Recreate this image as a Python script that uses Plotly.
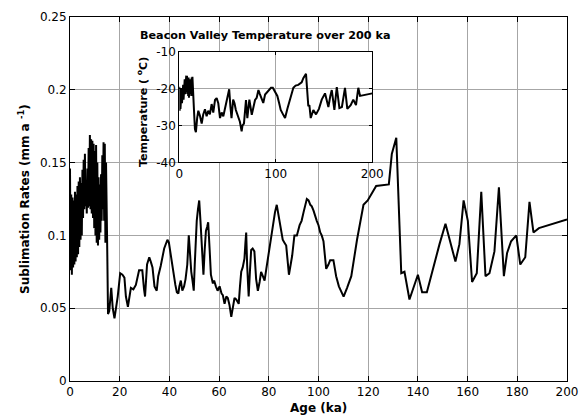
import plotly.graph_objects as go

# ---------------- data ----------------
age_ka = [
    0, 0.25, 0.5, 0.75, 1.0, 1.25, 1.5, 1.75, 2.0, 2.25, 2.5, 2.75, 3.0, 3.25, 3.5, 3.75,
    4.0, 4.25, 4.5, 4.75, 5.0, 5.25, 5.5, 5.75, 6.0, 6.25, 6.5, 6.75, 7.0, 7.25, 7.5, 7.75,
    8.0, 8.25, 8.5, 8.75, 9.0, 9.25, 9.5, 9.75, 10.0, 10.25, 10.5, 10.75, 11.0, 11.25, 11.5, 11.75,
    12.0, 12.25, 12.5, 12.75, 13.0, 13.25, 13.5, 13.75, 14.0, 14.25, 14.5, 14.75,
    15.0, 15.3, 15.8, 16.6, 17.2, 17.9, 18.5, 19.2, 20.2, 21.1, 21.9, 22.5, 23.3, 24.5, 25.5, 26.5,
    27.8, 29.1, 29.8, 30.2, 31.0, 31.9, 32.5, 33.2, 34.0, 34.9, 35.5, 36.5, 37.9, 38.6, 39.2, 39.8,
    40.6, 41.2, 41.9, 42.4, 43.0, 43.6, 44.0, 44.6, 45.2, 45.9, 46.5, 47.2, 47.8, 48.3, 48.8, 49.3,
    49.8, 50.2, 50.6, 51.0, 51.5, 52.0, 52.5, 52.9, 53.3, 53.7, 54.2, 54.7, 55.2, 55.6, 56.2, 56.7,
    57.5, 58.0, 58.7, 59.4, 60.2, 61.0, 61.5, 62.2, 62.9, 63.5, 64.2, 64.9, 65.5, 66.2, 66.9, 67.9,
    68.4, 68.9, 69.5, 70.2, 70.6, 70.9, 71.3, 71.9, 72.4, 72.9, 73.5, 74.2, 74.9, 75.6, 76.3, 76.9,
    77.6, 78.3, 79.0, 79.6, 80.3, 81.0, 81.9, 82.5, 83.2, 84.3, 85.0, 85.6, 86.3, 87.0, 88.1, 88.8,
    89.4, 90.3, 91.3, 92.4, 93.2, 94.0, 94.7, 95.3, 96.0, 96.7, 97.3, 98.0, 99.3, 100.0, 100.7, 101.3,
    102.0, 103.1, 104.0, 104.7, 106.0, 107.1, 108.2, 109.0, 110.1, 111.5, 113.2, 115.5, 118.1, 119.8,
    121.5, 123.2, 128.3, 129.5, 131.3, 133.3, 134.6, 136.6, 140.0, 141.7, 143.6, 145.4, 148.7, 151.1,
    155.1, 156.7, 158.4, 160.1, 161.8, 163.7, 165.5, 167.2, 168.8, 170.8, 172.6, 174.6, 175.9, 177.5,
    179.6, 181.2, 183.2, 184.9, 186.5, 188.7, 200.0,
]
sublimation_rate = [
    0.146, 0.076, 0.128, 0.073, 0.126, 0.078, 0.124, 0.080, 0.130, 0.082, 0.128, 0.085, 0.134, 0.087, 0.137, 0.092,
    0.140, 0.097, 0.136, 0.100, 0.145, 0.112, 0.152, 0.118, 0.156, 0.120, 0.138, 0.115, 0.146, 0.119, 0.160, 0.120,
    0.169, 0.118, 0.166, 0.115, 0.165, 0.112, 0.163, 0.105, 0.158, 0.100, 0.162, 0.095, 0.150, 0.093, 0.140, 0.097,
    0.135, 0.102, 0.142, 0.110, 0.155, 0.118, 0.164, 0.110, 0.163, 0.095, 0.150, 0.090,
    0.088, 0.046, 0.048, 0.064, 0.050, 0.043, 0.050, 0.058, 0.074, 0.073, 0.071, 0.058, 0.051, 0.064, 0.063, 0.066,
    0.076, 0.076, 0.063, 0.058, 0.080, 0.085, 0.082, 0.078, 0.065, 0.062, 0.072, 0.079, 0.091, 0.095, 0.097, 0.095,
    0.085, 0.080, 0.072, 0.066, 0.061, 0.060, 0.065, 0.069, 0.062, 0.065, 0.070, 0.080, 0.100, 0.085, 0.075, 0.069,
    0.062, 0.080, 0.099, 0.110, 0.118, 0.124, 0.110, 0.100, 0.085, 0.073, 0.090, 0.103, 0.106, 0.109, 0.090, 0.073,
    0.067, 0.069, 0.065, 0.062, 0.065, 0.060, 0.059, 0.053, 0.058, 0.057, 0.052, 0.044, 0.050, 0.057, 0.056, 0.053,
    0.065, 0.075, 0.078, 0.084, 0.095, 0.102, 0.079, 0.058, 0.075, 0.090, 0.091, 0.089, 0.070, 0.062, 0.068, 0.075,
    0.072, 0.069, 0.077, 0.084, 0.092, 0.099, 0.110, 0.116, 0.121, 0.111, 0.102, 0.097, 0.095, 0.093, 0.073, 0.080,
    0.086, 0.100, 0.100, 0.107, 0.110, 0.116, 0.120, 0.125, 0.124, 0.121, 0.120, 0.117, 0.110, 0.107, 0.102, 0.100,
    0.096, 0.077, 0.080, 0.083, 0.083, 0.072, 0.065, 0.062, 0.058, 0.064, 0.072, 0.097, 0.121, 0.124,
    0.129, 0.134, 0.135, 0.156, 0.167, 0.074, 0.075, 0.056, 0.073, 0.061, 0.061, 0.073, 0.094, 0.108,
    0.082, 0.094, 0.124, 0.110, 0.068, 0.074, 0.130, 0.072, 0.074, 0.089, 0.133, 0.072, 0.088, 0.096,
    0.100, 0.080, 0.085, 0.123, 0.102, 0.105, 0.111,
]

temp_age_ka = [
    0, 0.4, 0.8, 1.2, 1.6, 2.0, 2.4, 2.8, 3.2, 3.6, 4.0, 4.4, 4.8, 5.2, 5.6, 6.0, 6.4, 6.8,
    7.2, 7.6, 8.0, 8.4, 8.8, 9.2, 9.6, 10.0, 10.4, 10.8, 11.2, 11.6, 12.0, 12.4, 12.8, 13.2, 13.6,
    14.5, 15.2, 16.2, 17.2, 18.5, 19.7, 21.4, 23.2, 24.8, 26.6, 28.3, 30.0, 31.7, 33.5, 35.2, 37.0,
    38.7, 40.4, 42.2, 43.9, 45.6, 47.5, 49.6, 51.7, 53.0, 54.1, 55.8, 57.2, 58.6, 60.5, 62.8, 64.6,
    65.5, 67.0, 69.1, 70.5, 72.6, 75.1, 76.8, 78.5, 80.2, 82.0, 83.5, 85.5, 87.0, 88.9, 91.0, 93.4,
    95.0, 96.9, 99.0, 101.6, 103.5, 105.1, 107.5, 109.6, 112.0, 114.7, 116.5, 118.2, 120.5, 123.3,
    126.8, 128.5, 131.3, 133.7, 134.8, 136.2, 138.9, 141.7, 144.7, 147.6, 151.0, 154.5, 156.5, 158.0,
    160.7, 163.2, 165.9, 168.5, 171.7, 174.1, 177.6, 180.3, 183.1, 185.5, 187.3, 200.0,
]
temperature_c = [
    -19.5, -26, -20, -25.5, -20.5, -25, -20, -24, -19.5, -23.5, -19, -23, -18.5, -22, -17.5, -21.5, -17, -21,
    -16.5, -21, -16.5, -21.5, -17, -22, -17, -22.5, -17.5, -22, -18, -21.5, -17.5, -21, -17, -22, -16.8,
    -24, -25.8, -31, -31.8, -28, -26, -27.4, -29.5, -27, -25.6, -27.5, -26, -27, -24.2, -26.5, -23.1,
    -22.6, -24, -28, -26.5, -27.5, -25, -23, -20.2, -25, -28, -23, -24, -25.8, -27.5, -29, -31.6,
    -30, -29.5, -23.1, -28, -23, -27.1, -25, -23.1, -22.5, -20.4, -21.5, -23.1, -23.9, -21.6, -21, -20.2,
    -19.8, -19.8, -21, -22, -24, -25.8, -27, -28, -25.5, -23, -21, -19.8, -19.2, -19,
    -18.3, -17.2, -16, -24.8, -24.5, -28, -25.8, -27, -25.5, -23, -21.3, -25, -22, -20.4,
    -25.8, -19.6, -25.3, -25, -19.8, -25.5, -24.5, -23, -24.5, -19.8, -22, -21.3,
]

x_ticks = [0, 20, 40, 60, 80, 100, 120, 140, 160, 180, 200]
y_ticks = [0, 0.05, 0.1, 0.15, 0.2, 0.25]
y_tick_labels = ["0", "0.05", "0.1", "0.15", "0.2", "0.25"]
inset_x_ticks = [0, 100, 200]
inset_y_ticks = [-40, -30, -20, -10]
inset_y_tick_labels = ["-40", "-30", "-20", "-10"]

X_RANGE = [0, 200]
Y_RANGE = [0, 0.25]
INSET_Y_RANGE = [-40, -10]

# ---------------- layout helpers ----------------
W, H = 583, 415
L, R, T, B = 70, 16, 17, 34
PW, PH = W - L - R, H - T - B


def px_x(p):
    return (p - L) / PW


def px_y(p):
    return (H - B - p) / PH


inset_x_dom = [px_x(179.3), px_x(372.3)]
inset_y_dom = [px_y(162.3), px_y(51.7)]

# white patch under the inset (in main-axis units, derived from the inset domain)
patch_x = [X_RANGE[0] + d * (X_RANGE[1] - X_RANGE[0]) for d in inset_x_dom]
patch_y = [Y_RANGE[0] + d * (Y_RANGE[1] - Y_RANGE[0]) for d in inset_y_dom]

FONT = "DejaVu Sans"
grid_col = "#a6a6a6"

fig = go.Figure()
fig.add_trace(go.Scatter(x=age_ka, y=sublimation_rate, mode="lines",
                         line=dict(color="black", width=2), xaxis="x", yaxis="y",
                         showlegend=False, hoverinfo="skip"))
fig.add_trace(go.Scatter(x=temp_age_ka, y=temperature_c, mode="lines",
                         line=dict(color="black", width=2), xaxis="x2", yaxis="y2",
                         showlegend=False, hoverinfo="skip"))

axis_common = dict(showline=True, linecolor="black", linewidth=1, mirror="ticks",
                   ticks="inside", tickcolor="black", showgrid=True, gridcolor=grid_col,
                   gridwidth=1, zeroline=False, automargin=False,
                   tickfont=dict(family=FONT, size=12, color="black"))

fig.update_layout(
    template="none",
    width=W, height=H, autosize=False,
    margin=dict(l=L, r=R, t=T, b=B, pad=0),
    paper_bgcolor="white", plot_bgcolor="white",
    xaxis=dict(domain=[0, 1], range=X_RANGE, tickvals=x_ticks, ticklen=5, anchor="y", **axis_common),
    yaxis=dict(domain=[0, 1], range=Y_RANGE, tickvals=y_ticks, ticktext=y_tick_labels,
               ticklen=5, anchor="x", **axis_common),
    xaxis2=dict(domain=inset_x_dom, range=X_RANGE, tickvals=inset_x_ticks, ticklen=3,
                anchor="y2", **axis_common),
    yaxis2=dict(domain=inset_y_dom, range=INSET_Y_RANGE, tickvals=inset_y_ticks,
                ticktext=inset_y_tick_labels, ticklen=3, anchor="x2", **axis_common),
    shapes=[dict(type="rect", xref="x", yref="y",
                 x0=patch_x[0], x1=patch_x[1], y0=patch_y[0], y1=patch_y[1],
                 fillcolor="white", line=dict(width=0), layer="between")],
    annotations=[
        dict(text="<b>Age (ka)</b>", xref="paper", yref="paper", x=px_x(318.7), y=px_y(407.5),
             showarrow=False, xanchor="center", yanchor="middle",
             font=dict(family=FONT, size=12, color="black")),
        dict(text="<b>Sublimation Rates (mm a <sup>-1</sup>)</b>", xref="paper", yref="paper",
             x=px_x(24), y=px_y(199), textangle=-90, showarrow=False,
             xanchor="center", yanchor="middle", font=dict(family=FONT, size=12, color="black")),
        dict(text="<b>Beacon Valley Temperature over 200 ka</b>", xref="paper", yref="paper",
             x=px_x(264.5), y=px_y(35), showarrow=False, xanchor="center", yanchor="middle",
             font=dict(family=FONT, size=11.2, color="black")),
        dict(text="<b>Temperature ( <sup>o</sup>C)</b>", xref="paper", yref="paper",
             x=px_x(143), y=px_y(112), textangle=-90, showarrow=False,
             xanchor="center", yanchor="middle", font=dict(family=FONT, size=11, color="black")),
    ],
)

fig.write_html(
    "out.html",
    config={"displayModeBar": False, "responsive": False, "staticPlot": True},
    post_script="document.body.style.margin='0px';document.body.style.overflow='hidden';",
)
